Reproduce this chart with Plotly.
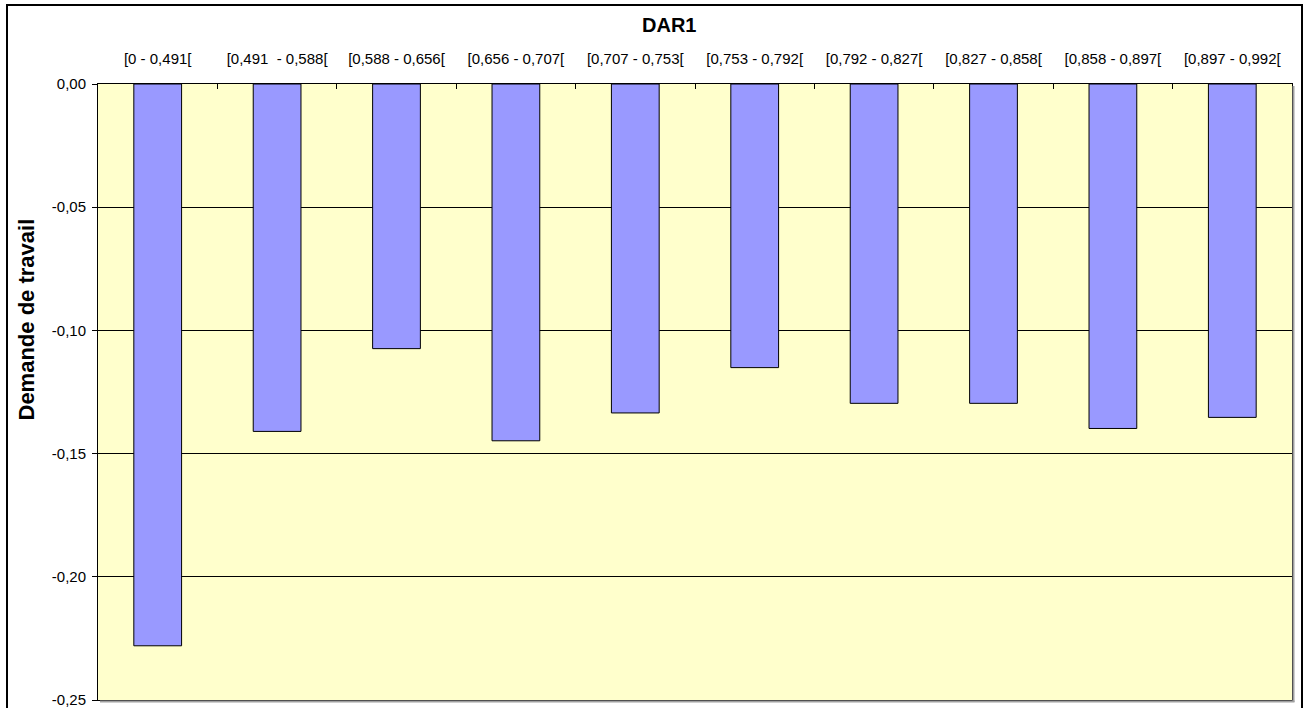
import plotly.graph_objects as go

# ---- data ----
categories = ["[0 - 0,491[", "[0,491  - 0,588[", "[0,588 - 0,656[", "[0,656 - 0,707[",
              "[0,707 - 0,753[", "[0,753 - 0,792[", "[0,792 - 0,827[", "[0,827 - 0,858[",
              "[0,858 - 0,897[", "[0,897 - 0,992["]
values = [-0.228, -0.141, -0.1074, -0.1448, -0.1335, -0.1151, -0.1296, -0.1296, -0.1398, -0.1353]
y_tickvals = [0.0, -0.05, -0.10, -0.15, -0.20, -0.25]
y_ticktext = ["0,00", "-0,05", "-0,10", "-0,15", "-0,20", "-0,25"]
title_text = "DAR1"
y_title = "Demande de travail"

W, H = 1309, 708
L, R, T, B = 98, 1292, 84, 700
FONT = "Arial, 'Liberation Sans', sans-serif"

fig = go.Figure()
fig.add_trace(go.Bar(
    x=categories, y=values,
    marker=dict(color="#9999FF", line=dict(color="black", width=1)),
    showlegend=False, hoverinfo="x+y",
))

def px_x(p):
    return (p - L) / (R - L)

def px_y(p):
    return (B - p) / (B - T)

fig.update_layout(
    width=W, height=H,
    margin=dict(l=L, r=W - R, t=T, b=H - B, pad=0, autoexpand=False),
    paper_bgcolor="white",
    plot_bgcolor="#FFFFCC",
    bargap=0.6,
    font=dict(family=FONT, size=15, color="black"),
    xaxis=dict(
        type="category", side="top",
        ticks="inside", tickson="boundaries", ticklen=5, tickcolor="black", tickwidth=1,
        showline=True, linecolor="black", linewidth=1, mirror=True,
        showgrid=False, ticklabelstandoff=13, automargin=False,
        tickfont=dict(family=FONT, size=15, color="black"),
        fixedrange=True,
    ),
    yaxis=dict(
        range=[-0.25, 0.0],
        tickvals=y_tickvals, ticktext=y_ticktext,
        ticks="outside", ticklen=5, tickcolor="black", tickwidth=1,
        showline=True, linecolor="black", linewidth=1, mirror=True,
        showgrid=True, gridcolor="black", gridwidth=1,
        zeroline=False, automargin=False,
        tickfont=dict(family=FONT, size=15, color="black"),
        ticklabelstandoff=3, ticklabeloverflow="allow",
        fixedrange=True,
    ),
)

# plot-area shadow (right and bottom)
fig.add_shape(type="line", xref="paper", yref="paper",
              x0=px_x(R + 1.5), x1=px_x(R + 1.5), y0=px_y(T + 2), y1=px_y(B + 2),
              line=dict(color="#A0A0A0", width=2))
fig.add_shape(type="line", xref="paper", yref="paper",
              x0=px_x(L + 2), x1=px_x(R + 2.5), y0=px_y(B + 1.5), y1=px_y(B + 1.5),
              line=dict(color="#A0A0A0", width=2))

# outer chart border
fig.add_shape(type="rect", xref="paper", yref="paper",
              x0=px_x(7), x1=px_x(1302), y0=px_y(5), y1=px_y(H + 10),
              line=dict(color="black", width=2), fillcolor="rgba(0,0,0,0)", layer="above")

# title
fig.add_annotation(text="<b>" + title_text + "</b>", xref="paper", yref="paper",
                   x=px_x(669), y=px_y(25), xanchor="center", yanchor="middle",
                   showarrow=False, font=dict(family=FONT, size=20, color="black"))
# y axis title
fig.add_annotation(text="<b>" + y_title + "</b>", xref="paper", yref="paper",
                   x=px_x(25.5), y=px_y(320), xanchor="center", yanchor="middle",
                   textangle=-90, showarrow=False,
                   font=dict(family=FONT, size=22, color="black"))

fig.write_html("out.html", config={"displayModeBar": False},
               post_script="document.body.style.margin='0';document.body.style.overflow='hidden';")
